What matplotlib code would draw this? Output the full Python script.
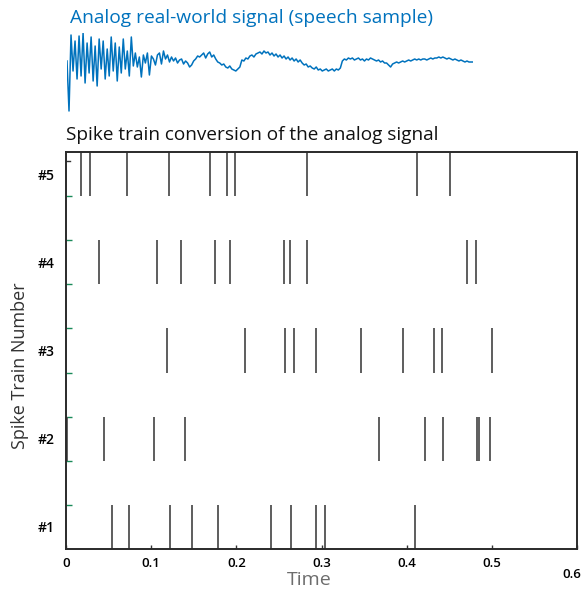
import numpy as np
import matplotlib
matplotlib.use('Agg')
import matplotlib.pyplot as plt
import matplotlib.transforms as mtrans

plt.rcParams['font.family'] = ['Open Sans', 'DejaVu Sans']

# spike times for each train (#1 .. #5)
train1 = [0.0536, 0.0742, 0.1227, 0.1481, 0.1786, 0.2403, 0.2638, 0.2934, 0.3045, 0.4095]
train2 = [0.0015, 0.0445, 0.1028, 0.1403, 0.3678, 0.4217, 0.4428, 0.4827, 0.4853, 0.4982]
train3 = [0.1184, 0.2107, 0.2576, 0.2677, 0.2934, 0.3458, 0.3962, 0.4326, 0.4411, 0.4998]
train4 = [0.0387, 0.1067, 0.1356, 0.1747, 0.1926, 0.2556, 0.2634, 0.2834, 0.4705, 0.4815]
train5 = [0.0176, 0.0281, 0.0719, 0.1208, 0.1685, 0.1896, 0.1985, 0.2834, 0.4119, 0.4513]
trains = [train1, train2, train3, train4, train5]
train_labels = ['#1', '#2', '#3', '#4', '#5']

# analog speech sample (arbitrary units)
signal = [0, -50, 26, -10, 20, -18, 25, -15, 28, -22, 18, -12, 24, -20, 15, -25, 22, -8,
          20, -18, 12, -15, 24, -10, 18, -20, 14, -12, 22, -8, 10, -15, 24, -5,
          8, -6, 4, -16, 6, -2, 8, -14, 5, 2, -4, 6, 8, -3, 10, 2, 6, -1,
          4, 0, 3, -2, 1, 2, -3, 0, -2, -6, -4, 0, 2, 5, 4,
          6, 8, 3, 7, 9, 4, 6, 2,
          -1, -2, -4, -3, -6, -7, -5, -8, -9, -10, -8, -6,
          1, 0, 3, 2, 5, 6, 4, 7, 8, 9, 7, 10,
          8, 9, 6, 8, 5, 7, 4, 6, 3, 5, 2, 4, 1, 3, 0, 2, -1, 1,
          -2, -4, -3, -6, -5, -7, -8, -6, -9, -8, -10, -9, -8, -10, -9, -8, -10, -8, -9, -7,
          0, 2, 1, 3, 2, 3, 1, 2, 3, 1, 2, 0, 2, 1, 3, 2, 1, 0, 1, -1, 0, -2,
          -2, -4, -6, -3, -2, -1, -2, -1,
          0, -1, 0, 1, 0, 1, 2, 1, 2, 1, 2, 2, 1, 2, 3, 2, 3, 3, 4, 3, 4, 3, 2, 3, 2, 1,
          2, 1, 0, 1, 0, -1, 0, -1, -1, -1]
sample_idx = np.arange(len(signal))

W, H = 581, 589
fig = plt.figure(figsize=(W / 100, H / 100), dpi=100)

# --- top: analog signal ---
axs = fig.add_axes([67 / W, 1 - 113 / H, (473 - 67) / W, 80 / H])
axs.plot(sample_idx, signal, color='#0072BD', lw=1.1)
axs.set_xlim(0, len(signal) - 1)
axs.set_ylim(-52, 28)
axs.axis('off')
fig.text(70 / W, 1 - 18 / H, 'Analog real-world signal (speech sample)',
         color='#0072BD', fontsize=13.8, ha='left', va='center')

# --- bottom: spike trains ---
ax = fig.add_axes([66 / W, 1 - 549 / H, 511 / W, 397 / H])
offsets = [0.5 + 2 * i for i in range(len(trains))]
ax.eventplot(trains, lineoffsets=offsets, linelengths=1.0, colors='#505050', linewidths=1.3)
ax.set_xlim(0, 0.6)
ax.set_ylim(0, 9)

for sp in ax.spines.values():
    sp.set_color('#2a2a2a')
    sp.set_linewidth(1.4)

ax.set_xticks([0, 0.1, 0.2, 0.3, 0.4, 0.5, 0.6])
ax.set_xticklabels(['0', '0.1', '0.2', '0.3', '0.4', '0.5', '0.6'])
ax.tick_params(axis='x', direction='in', length=3, width=1, color='#333333',
               pad=6, labelsize=9.5)
for lab in ax.get_xticklabels():
    lab.set_fontweight('semibold')
last = ax.xaxis.get_major_ticks()[-1]
last.set_pad(14)
last.label1.set_transform(last.label1.get_transform()
                          + mtrans.ScaledTranslation(-5 / 100, 0, fig.dpi_scale_trans))

ax.set_yticks(offsets)
ax.set_yticklabels(train_labels)
ax.tick_params(axis='y', length=0, pad=8, labelsize=10)
for lab in ax.get_yticklabels():
    lab.set_fontweight('semibold')

# small inside ticks between the trains
ax.set_yticks([1, 2, 3, 4, 5, 6, 7, 8], minor=True)
ax.tick_params(axis='y', which='minor', direction='in', length=4, width=1, color='#1a8a5a')
ax.plot([0, 0.008], [8.8, 8.8], color='#333333', lw=1, transform=ax.get_yaxis_transform())

ax.set_xlabel('Time', color='#6d6d6d', fontsize=14)
ax.xaxis.set_label_coords((309 - 66) / 511, -(580 - 549) / 397)
ax.xaxis.label.set_va('center')
ax.set_ylabel('Spike Train Number', color='#333333', fontsize=13)
ax.yaxis.set_label_coords(-(66 - 20) / 511, (549 - 366) / 397)
ax.yaxis.label.set_va('center')

fig.text(66 / W, 1 - 135 / H, 'Spike train conversion of the analog signal',
         color='#111111', fontsize=13.7, ha='left', va='center')

fig.savefig('out.png', dpi=100, facecolor='white')
